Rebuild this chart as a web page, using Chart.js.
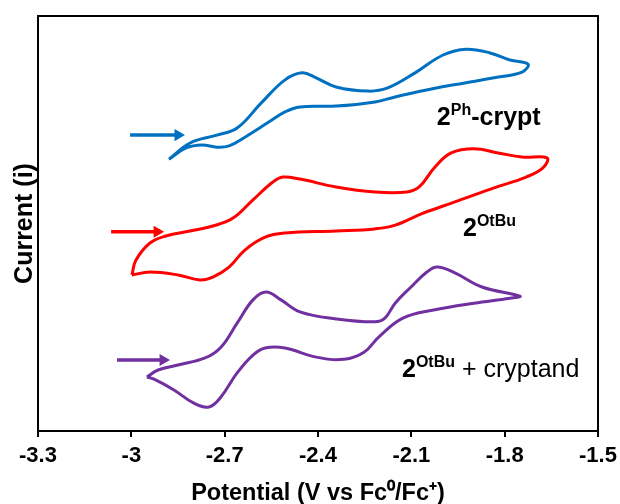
<!DOCTYPE html>
<html>
<head>
<meta charset="utf-8">
<script src="https://cdn.jsdelivr.net/npm/chart.js@4/dist/chart.umd.min.js"></script>
<style>
html,body{margin:0;padding:0;background:#fff;}
#wrap{width:620px;height:504px;position:relative;}
</style>
</head>
<body>
<div id="wrap"><canvas id="c"></canvas></div>
<script>
// Potential (V vs Fc0/Fc+) and current (arbitrary units)
const bluePotential = [-2.879,-2.811,-2.725,-2.660,-2.583,-2.506,-2.451,-2.406,-2.342,-2.239,-2.178,-2.088,-1.998,-1.924,-1.847,-1.783,-1.725,
  -1.744,-1.834,-1.924,-2.024,-2.152,-2.217,-2.342,-2.458,-2.506,-2.557,-2.635,-2.686,-2.725,-2.773,-2.824,-2.879];
const blueCurrent = [65.5,69.4,71.3,73.0,79.0,84.6,86.3,85.1,82.9,81.9,82.6,86.3,90.6,92.0,91.1,89.4,88.4,
  86.5,85.1,83.9,82.6,80.5,79.3,78.3,78.1,76.9,74.5,70.8,68.7,68.4,68.9,68.2,65.5];

const redPotential = [-2.998,-2.985,-2.940,-2.889,-2.811,-2.738,-2.673,-2.609,-2.545,-2.513,-2.458,-2.342,-2.217,-2.114,-2.075,-2.024,-1.972,-1.899,-1.821,-1.744,-1.664,
  -1.677,-1.731,-1.834,-1.960,-2.062,-2.152,-2.217,-2.342,-2.506,-2.570,-2.635,-2.686,-2.738,-2.779,-2.850,-2.940,-2.998];
const redCurrent = [37.6,41.2,45.3,47.0,48.2,49.4,51.3,55.7,60.0,61.2,60.7,58.8,57.6,57.6,58.8,63.6,67.0,68.0,67.0,66.0,65.8,
  63.4,61.2,58.6,55.2,52.5,49.6,48.7,48.2,47.7,46.7,43.6,39.5,37.1,36.4,37.6,38.3,37.6];

const purplePotential = [-2.950,-2.914,-2.850,-2.763,-2.712,-2.660,-2.609,-2.567,-2.519,-2.458,-2.342,-2.217,-2.185,-2.152,-2.101,-2.050,-2.017,-1.960,-1.873,-1.751,
  -1.783,-1.899,-2.024,-2.127,-2.204,-2.252,-2.316,-2.406,-2.506,-2.570,-2.609,-2.660,-2.712,-2.750,-2.799,-2.863,-2.927,-2.950];
const purpleCurrent = [13.0,14.7,15.9,17.6,20.2,26.0,31.6,33.5,31.6,28.7,27.0,26.3,27.2,30.8,34.7,38.3,39.5,38.1,34.7,32.5,
  32.0,30.8,29.2,27.2,22.7,19.0,17.3,17.8,20.0,20.0,18.3,14.0,8.2,5.8,6.7,9.9,12.5,13.0];

// scan-direction arrows (start/end potential, current level)
const blueArrowPotential = [-3.004,-2.850];
const blueArrowCurrent = [71.3,71.3];
const redArrowPotential = [-3.065,-2.917];
const redArrowCurrent = [48.0,48.0];
const purpleArrowPotential = [-3.046,-2.898];
const purpleArrowCurrent = [17.1,17.1];

const xTickValues = [-3.3,-3.0,-2.7,-2.4,-2.1,-1.8,-1.5];

const seriesNames = ['2Ph-crypt','2OtBu','2OtBu + cryptand'];

const zip = (xs, ys) => xs.map((x,i)=>({x:x,y:ys[i]}));

const BLUE='#0070C0', RED='#FF0000', PURPLE='#7030A0';
const FAM='"Liberation Sans", Arial, sans-serif';

function curve(label, xs, ys, color){
  return {label, data: zip(xs,ys), showLine:true, borderColor:color, backgroundColor:color,
    borderWidth:3, pointRadius:0, tension:0.4, fill:false};
}
function arrow(label, xs, ys, color){
  return {label, data: zip(xs,ys), showLine:true, borderColor:color, backgroundColor:color,
    borderWidth:3.5, pointStyle:'triangle', rotation:90, pointRadius:[0,7], pointBorderWidth:0,
    tension:0, fill:false};
}

// text labels with superscripts
const MAIN='bold 25px '+FAM, SUP='bold 16px '+FAM, REG='25px '+FAM;
const textLabels = [
  {x:-2.018, y:73.7, parts:[['2',MAIN,0],['Ph',SUP,-10],['-crypt',MAIN,0]]},
  {x:-1.934, y:47.0, parts:[['2',MAIN,0],['OtBu',SUP,-10]]},
  {x:-2.130, y:13.0, parts:[['2',MAIN,0],['OtBu',SUP,-10],[' + cryptand',REG,0]]}
];

const framePlugin = {
  id:'frame',
  afterDraw(chart){
    const {ctx, chartArea:a, scales} = chart;
    ctx.save();
    ctx.strokeStyle='#000'; ctx.lineWidth=2;
    ctx.strokeRect(a.left, a.top, a.right-a.left, a.bottom-a.top);
    ctx.fillStyle='#000'; ctx.textBaseline='alphabetic'; ctx.textAlign='left';
    textLabels.forEach(l=>{
      let px = scales.x.getPixelForValue(l.x);
      const py = scales.y.getPixelForValue(l.y);
      l.parts.forEach(p=>{
        ctx.font = p[1];
        ctx.fillText(p[0], px, py + p[2]);
        px += ctx.measureText(p[0]).width;
      });
    });
    ctx.restore();
  }
};

new Chart(document.getElementById('c'), {
  type:'scatter',
  data:{datasets:[
    curve(seriesNames[0], bluePotential, blueCurrent, BLUE),
    curve(seriesNames[1], redPotential, redCurrent, RED),
    curve(seriesNames[2], purplePotential, purpleCurrent, PURPLE),
    arrow('arrow1', blueArrowPotential, blueArrowCurrent, BLUE),
    arrow('arrow2', redArrowPotential, redArrowCurrent, RED),
    arrow('arrow3', purpleArrowPotential, purpleArrowCurrent, PURPLE)
  ]},
  options:{
    responsive:true, maintainAspectRatio:false, animation:false,
    layout:{padding:{top:16,right:22,left:0,bottom:0}},
    plugins:{legend:{display:false}, tooltip:{enabled:false}},
    scales:{
      x:{type:'linear', min:-3.3, max:-1.5,
        afterBuildTicks:(s)=>{ s.ticks = xTickValues.map(v=>({value:v})); },
        afterFit:(s)=>{ s.height = 73; s.paddingLeft = 0; s.paddingRight = 0; },
        ticks:{color:'#000', font:{family:FAM, size:22, weight:'bold'}, padding:6,
          callback:(v)=>String(Math.round(v*10)/10)},
        grid:{display:true, drawOnChartArea:false, drawTicks:true, tickLength:6, color:'#000', lineWidth:2},
        border:{display:true, color:'#000', width:2},
        title:{display:true, text:'Potential (V vs Fc⁰/Fc⁺)', color:'#000',
          font:{family:FAM, size:23.5, weight:'bold'}, padding:{top:0,bottom:-4}}
      },
      y:{type:'linear', min:0, max:100,
        afterFit:(s)=>{ s.width = 38; },
        ticks:{display:false},
        grid:{display:false},
        border:{display:true, color:'#000', width:2},
        title:{display:true, text:'Current (i)', color:'#000',
          font:{family:FAM, size:25, weight:'bold'}, padding:{top:10,bottom:0}}
      }
    }
  },
  plugins:[framePlugin]
});
</script>
</body>
</html>
